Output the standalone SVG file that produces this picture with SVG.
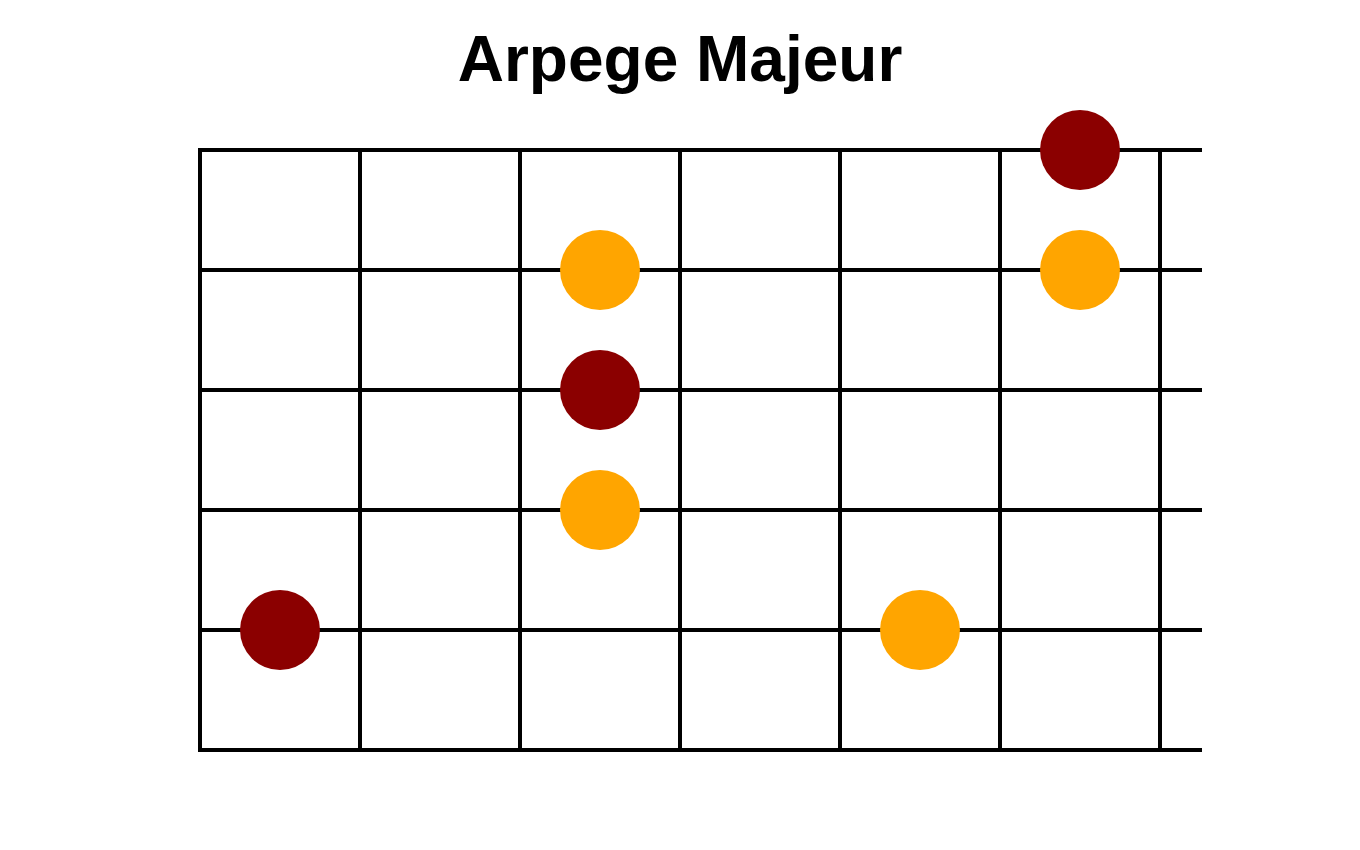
<svg xmlns="http://www.w3.org/2000/svg" width="1360" height="850" viewBox="0 0 1360 850">
<style>
.grid line{stroke:#000;stroke-width:4;stroke-linecap:square}
.root{fill:#8B0000}
.note{fill:#FFA500}
.title{font-family:"Liberation Sans",Arial,sans-serif;font-weight:bold;font-size:64px;fill:#000}
</style>
<rect width="1360" height="850" fill="#fff"/>
<text class="title" x="680" y="81" text-anchor="middle">Arpege Majeur</text>
<g id="connectors" class="grid">
<line x1="200" y1="150" x2="1200" y2="150"/>
<line x1="200" y1="270" x2="1200" y2="270"/>
<line x1="200" y1="390" x2="1200" y2="390"/>
<line x1="200" y1="510" x2="1200" y2="510"/>
<line x1="200" y1="630" x2="1200" y2="630"/>
<line x1="200" y1="750" x2="1200" y2="750"/>
<line x1="200" y1="150" x2="200" y2="750"/>
<line x1="360" y1="150" x2="360" y2="750"/>
<line x1="520" y1="150" x2="520" y2="750"/>
<line x1="680" y1="150" x2="680" y2="750"/>
<line x1="840" y1="150" x2="840" y2="750"/>
<line x1="1000" y1="150" x2="1000" y2="750"/>
<line x1="1160" y1="150" x2="1160" y2="750"/>
</g>
<g id="n1"><circle class="root" cx="1080" cy="150" r="40"/></g>
<g id="n2"><circle class="note" cx="600" cy="270" r="40"/></g>
<g id="n3"><circle class="note" cx="1080" cy="270" r="40"/></g>
<g id="n4"><circle class="root" cx="600" cy="390" r="40"/></g>
<g id="n5"><circle class="note" cx="600" cy="510" r="40"/></g>
<g id="n6"><circle class="root" cx="280" cy="630" r="40"/></g>
<g id="n7"><circle class="note" cx="920" cy="630" r="40"/></g>
</svg>
